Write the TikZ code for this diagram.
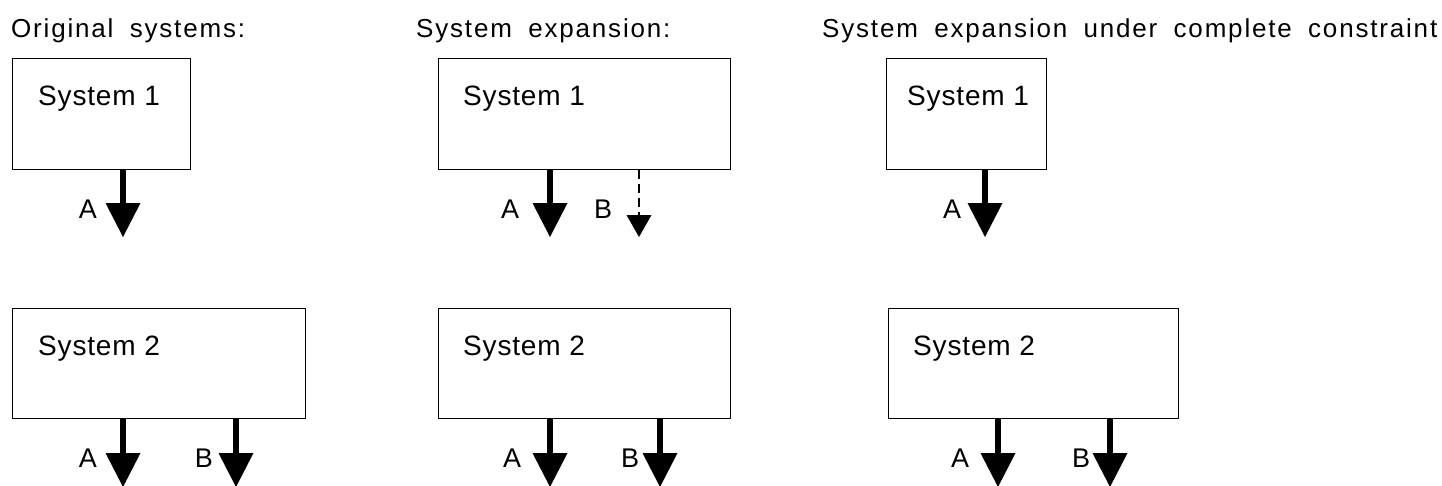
\documentclass[tikz,border=0pt]{standalone}
\usepackage{fontspec}
\setmainfont{Liberation Sans}[LetterSpace=3]
\newfontfamily\headfont{Liberation Sans}[LetterSpace=7,WordSpace=1.8]
\usetikzlibrary{arrows.meta}

\tikzset{
  sysbox/.style={draw=black, line width=1.3pt, fill=white, inner sep=0pt, anchor=north west},
  boxtext/.style={anchor=base west, inner sep=0pt, font=\fontsize{28}{32}\selectfont},
  headtext/.style={anchor=base west, inner sep=0pt, font=\headfont\fontsize{26}{30}\selectfont},
  flowlbl/.style={anchor=base, inner sep=0pt, font=\fontsize{27}{30}\selectfont},
  flow/.style={line width=6pt, -{Triangle[width=35pt,length=34pt,line width=0pt]}},
  optflow/.style={line width=1.6pt, dash pattern=on 9pt off 5pt,
                  -{Triangle[width=25pt,length=22pt,line width=0pt]}}
}

\begin{document}
\begin{tikzpicture}[x=1pt, y=-1pt]
  \useasboundingbox[fill=white] (0,0) rectangle (1442,485);

  % column headings
  \node[headtext] (h1) at (11,37)  {Original systems:};
  \node[headtext] (h2) at (416,37) {System expansion:};
  \node[headtext] (h3) at (822,37) {System expansion under complete constraint};

  % boxes, upper row
  \node[sysbox, minimum width=178pt, minimum height=111pt] (o1) at (12,58)  {};
  \node[sysbox, minimum width=292pt, minimum height=111pt] (e1) at (438,58) {};
  \node[sysbox, minimum width=160pt, minimum height=111pt] (c1) at (886,58) {};
  % boxes, lower row
  \node[sysbox, minimum width=293pt, minimum height=110pt] (o2) at (12,308)  {};
  \node[sysbox, minimum width=292pt, minimum height=110pt] (e2) at (438,308) {};
  \node[sysbox, minimum width=290pt, minimum height=110pt] (c2) at (888,308) {};

  % box titles
  \node[boxtext] (o1t) at (38,105)  {System 1};
  \node[boxtext] (e1t) at (463,105) {System 1};
  \node[boxtext] (c1t) at (907,105) {System 1};
  \node[boxtext] (o2t) at (38,355)  {System 2};
  \node[boxtext] (e2t) at (463,355) {System 2};
  \node[boxtext] (c2t) at (913,355) {System 2};

  % arrow end points
  \coordinate (o1A) at (123,237);
  \coordinate (e1A) at (550,237);
  \coordinate (e1B) at (639,237);
  \coordinate (c1A) at (985,237);
  \coordinate (o2A) at (123,487);
  \coordinate (o2B) at (236,487);
  \coordinate (e2A) at (550,487);
  \coordinate (e2B) at (660,487);
  \coordinate (c2A) at (998,487);
  \coordinate (c2B) at (1110,487);

  % outputs
  \draw[flow]    (o1.south -| o1A) -- (o1A);
  \draw[flow]    (e1.south -| e1A) -- (e1A);
  \draw[optflow] (e1.south -| e1B) -- (e1B);
  \draw[flow]    (c1.south -| c1A) -- (c1A);
  \draw[flow]    (o2.south -| o2A) -- (o2A);
  \draw[flow]    (o2.south -| o2B) -- (o2B);
  \draw[flow]    (e2.south -| e2A) -- (e2A);
  \draw[flow]    (e2.south -| e2B) -- (e2B);
  \draw[flow]    (c2.south -| c2A) -- (c2A);
  \draw[flow]    (c2.south -| c2B) -- (c2B);

  % output labels
  \node[flowlbl] (o1a) at (88,218)  {A};
  \node[flowlbl] (e1a) at (510,218) {A};
  \node[flowlbl] (e1b) at (603,218) {B};
  \node[flowlbl] (c1a) at (952,218) {A};
  \node[flowlbl] (o2a) at (88,467)  {A};
  \node[flowlbl] (o2b) at (204,467) {B};
  \node[flowlbl] (e2a) at (512,467) {A};
  \node[flowlbl] (e2b) at (630,467) {B};
  \node[flowlbl] (c2a) at (960,467) {A};
  \node[flowlbl] (c2b) at (1081,467) {B};
\end{tikzpicture}
\end{document}
